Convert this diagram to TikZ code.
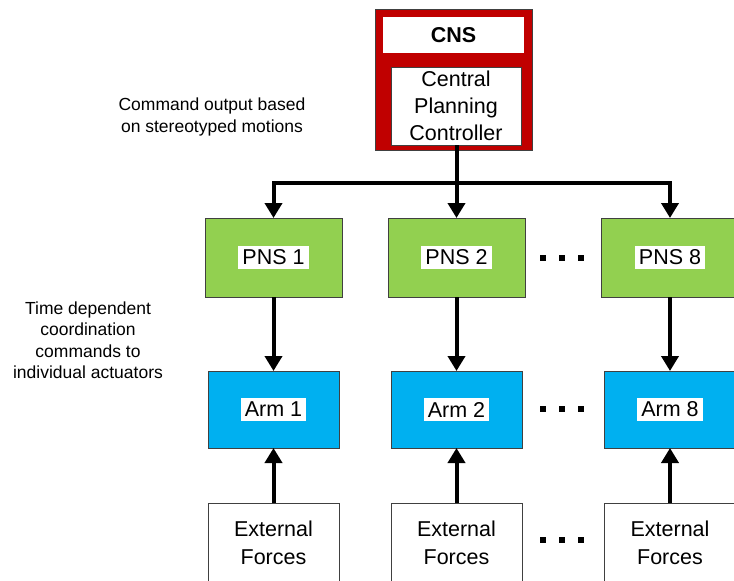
\documentclass[tikz,border=0pt]{standalone}
\usepackage{fontspec}
\setmainfont{Liberation Sans}
\usetikzlibrary{arrows.meta}
\definecolor{cnsred}{HTML}{C00000}
\definecolor{pnsgreen}{HTML}{92D050}
\definecolor{armblue}{HTML}{00B0F0}
\definecolor{edge}{HTML}{404040}
\newcommand\wlab[1]{{\setlength\fboxsep{4pt}\colorbox{white}{#1}}}
\begin{document}
\begin{tikzpicture}[x=1pt,y=-1pt,
  box/.style={draw=edge, line width=0.8pt, inner sep=0pt, outer sep=0pt, font=\fontsize{21.5}{27}\selectfont, align=center},
  pnsbox/.style={box, fill=pnsgreen, minimum width=137pt, minimum height=79pt},
  armbox/.style={box, fill=armblue, minimum width=131pt, minimum height=77pt},
  extbox/.style={box, fill=white, minimum width=131pt, minimum height=80pt, font=\fontsize{21.5}{28.5}\selectfont},
  note/.style={font=\fontsize{17.5}{21.5}\selectfont, align=center, inner sep=0pt},
  arr/.style={line width=4pt, -{Triangle[width=17pt,length=15pt]}},
  dotsq/.style={fill=black}
]
\useasboundingbox (0,0) rectangle (734,581);
\clip (0,0) rectangle (734,581);

% CNS
\node[box, fill=cnsred, minimum width=157pt, minimum height=141pt] (cns) at (453.5,79.5) {};
\node[box, draw=none, fill=white, minimum width=141pt, minimum height=36pt, font=\fontsize{21.5}{26}\selectfont\bfseries] (cnslabel) at (453.5,35) {CNS};
\node[box, fill=white, minimum width=130pt, minimum height=78pt] (ctrl) at (456,106) {Central\\Planning\\Controller};

% notes
\node[note] (n1) at (212,117) {Command output based\\on stereotyped motions};
\node[note] (n2) at (88,340) {Time dependent\\coordination\\commands to\\individual actuators};

% PNS
\node[pnsbox] (pns1) at (273.5,257.5) {\wlab{PNS 1}};
\node[pnsbox] (pns2) at (456.5,257.5) {\wlab{PNS 2}};
\node[pnsbox] (pns8) at (670,257.5) {\wlab{PNS 8}};

% Arms
\node[armbox] (arm1) at (273.5,409.5) {\wlab{Arm 1}};
\node[armbox] (arm2) at (456.5,409.5) {\wlab{Arm 2}};
\node[armbox] (arm8) at (670,409.5) {\wlab{Arm 8}};

% External
\node[extbox] (ext1) at (273.5,543) {External\\Forces};
\node[extbox] (ext2) at (456.5,543) {External\\Forces};
\node[extbox] (ext8) at (670,543) {External\\Forces};

% connectors
\coordinate (bus) at (456.5,183);
\draw[arr] (ctrl.south -| pns2.north) -- (pns2.north);
\draw[arr] (bus) -| (pns1.north);
\draw[arr] (bus) -| (pns8.north);
\foreach \i in {1,2,8}{
  \draw[arr] (pns\i.south) -- (arm\i.north);
  \draw[arr] (ext\i.north) -- (arm\i.south);
}

% dots
\foreach \y in {258,409,540}{
  \foreach \x in {543,562,581}{
    \fill[dotsq] (\x-3.3,\y-3.3) rectangle (\x+3.3,\y+3.3);
  }
}
\end{tikzpicture}
\end{document}
